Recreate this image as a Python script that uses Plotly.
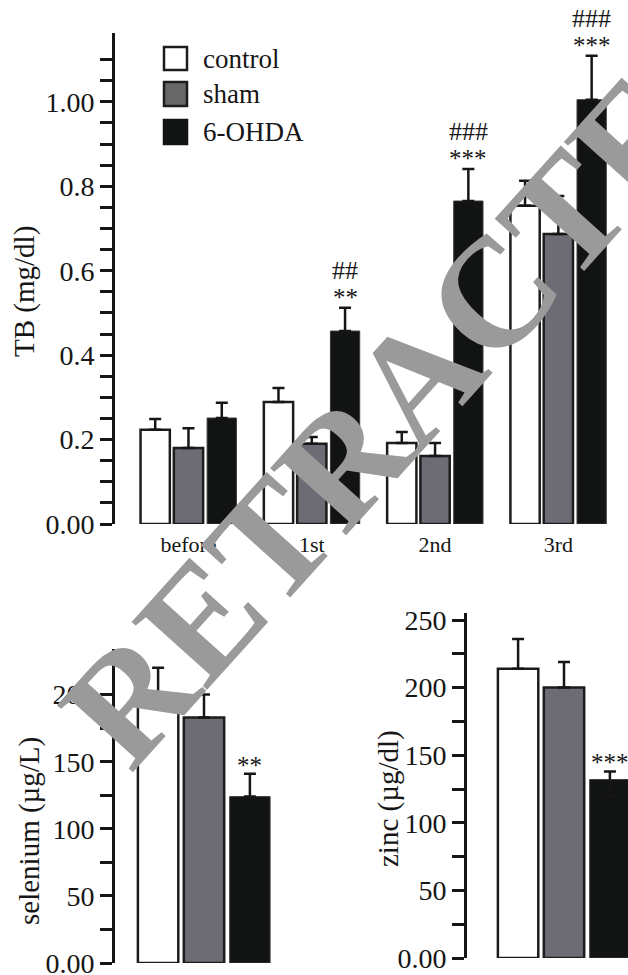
import plotly.graph_objects as go

# ---------------- data ----------------
groups = ["control", "sham", "6-OHDA"]
timepoints = ["before", "1st", "2nd", "3rd"]

tb_control = [0.223, 0.289, 0.192, 0.754]
tb_control_err = [0.026, 0.033, 0.026, 0.059]
tb_sham = [0.180, 0.190, 0.161, 0.687]
tb_sham_err = [0.047, 0.016, 0.031, 0.090]
tb_ohda = [0.251, 0.457, 0.765, 1.005]
tb_ohda_err = [0.036, 0.055, 0.076, 0.104]
tb_stars = ["", "**", "***", "***"]
tb_hashes = ["", "##", "###", "###"]

selenium_cat = ["selenium"]
selenium_vals = [195, 183, 124]
selenium_err = [25, 17, 17]
selenium_stars = ["", "", "**"]

zinc_cat = ["zinc"]
zinc_vals = [214, 200, 132]
zinc_err_plus = [22, 19, 6]
zinc_err_minus = [0, 0, 12]
zinc_stars = ["", "", "***"]

tb_ticks = [0, 0.2, 0.4, 0.6, 0.8, 1.0]
tb_ticktext = ["0.00", "0.2", "0.4", "0.6", "0.8", "1.00"]
tb_minor = [round(0.05 * i, 2) for i in range(23)]
se_ticks = [0, 50, 100, 150, 200]
se_ticktext = ["0.00", "50", "100", "150", "200"]
zn_ticks = [0, 50, 100, 150, 200, 250]
zn_ticktext = ["0.00", "50", "100", "150", "200", "250"]

titles = ["TB (mg/dl)", "selenium (µg/L)", "zinc (µg/dl)"]

# ---------------- style ----------------
W, H = 628, 975
FONT = "Liberation Serif"
INK = "#161616"
fills = ["#ffffff", "#6d6b74", "#121413"]
edges = ["#1c1c1c", "#1c1c1c", "#3a3a3a"]
edge_w = [2.5, 2.5, 1]
BARGAP = 0.19
GROUPGAP = 0.12
slot = (1 - BARGAP) / 3


def px_x(p):
    return p / W


def px_y(p):
    return 1 - p / H


fig = go.Figure()


def add_bars(xcats, series, errs_plus, errs_minus, xa, ya):
    for k in range(3):
        fig.add_trace(go.Bar(
            x=xcats, y=series[k], name=groups[k],
            marker=dict(color=fills[k], line=dict(color=edges[k], width=edge_w[k])),
            error_y=dict(type="data", symmetric=False, array=errs_plus[k],
                         arrayminus=errs_minus[k], color=INK, thickness=2.5, width=6),
            xaxis=xa, yaxis=ya, showlegend=False,
        ))


add_bars(timepoints, [tb_control, tb_sham, tb_ohda],
         [tb_control_err, tb_sham_err, tb_ohda_err],
         [[0] * 4] * 3, "x", "y")
add_bars(selenium_cat, [[v] for v in selenium_vals], [[e] for e in selenium_err],
         [[0]] * 3, "x2", "y2")
add_bars(zinc_cat, [[v] for v in zinc_vals], [[e] for e in zinc_err_plus],
         [[e] for e in zinc_err_minus], "x3", "y3")


def yaxis_style(ticks, ticktext, minor_vals, rng, dom, anchor):
    return dict(
        domain=dom, range=rng, anchor=anchor, showgrid=False, zeroline=False,
        automargin=False, ticklabeloverflow="allow",
        showline=True, linewidth=3, linecolor=INK,
        tickmode="array", tickvals=ticks, ticktext=ticktext,
        ticks="outside", ticklen=12, tickwidth=3, tickcolor=INK,
        tickfont=dict(family=FONT, size=28, color=INK),
        minor=dict(tickmode="array", tickvals=minor_vals, ticks="outside",
                   ticklen=12, tickwidth=3, tickcolor=INK, showgrid=False),
        fixedrange=True,
    )


def xaxis_hidden(dom, rng, anchor):
    return dict(domain=dom, range=rng, anchor=anchor, automargin=False,
                showline=False, showgrid=False, zeroline=False, showticklabels=False,
                fixedrange=True)


fig.update_layout(
    width=W, height=H, margin=dict(l=0, r=0, t=0, b=0, autoexpand=False),
    paper_bgcolor="white", plot_bgcolor="white",
    barmode="group", bargap=BARGAP, bargroupgap=GROUPGAP,
    xaxis=dict(domain=[px_x(115), px_x(620)], range=[-0.596, 3.5], anchor="y",
               automargin=False, showline=False, showgrid=False, zeroline=False,
               ticks="outside", ticklen=1, tickcolor="rgba(0,0,0,0)",
               tickfont=dict(family=FONT, size=22, color=INK), fixedrange=True),
    yaxis=yaxis_style(tb_ticks, tb_ticktext, tb_minor,
                      [0, 1.163], [px_y(524), px_y(33)], "x"),
    xaxis2=xaxis_hidden([px_x(115), px_x(300)], [-0.5235, 0.5647], "y2"),
    yaxis2=yaxis_style(se_ticks, se_ticktext, [25 * i for i in range(10)],
                       [0, 234], [px_y(963), px_y(649)], "x2"),
    xaxis3=xaxis_hidden([px_x(467), 1.0], [-0.5706, 0.3765], "y3"),
    yaxis3=yaxis_style(zn_ticks, zn_ticktext, [25 * i for i in range(11)],
                       [0, 255.2], [px_y(958), px_y(613)], "x3"),
)

annotations = []

# y-axis titles
for text, (cx, cy) in zip(titles, [(24, 292), (29, 831), (388, 799)]):
    annotations.append(dict(xref="paper", yref="paper", x=px_x(cx), y=px_y(cy),
                            text=text, showarrow=False, textangle=-90,
                            xanchor="center", yanchor="middle",
                            font=dict(family=FONT, size=29, color=INK)))


def sig(xref, yref, xpos, ytop, text, shift, size):
    annotations.append(dict(
        xref=xref, yref=yref, x=xpos, y=ytop, text=text, showarrow=False,
        yanchor="middle", xanchor="center", yshift=shift,
        font=dict(family=FONT, size=size, color=INK)))


for i in range(len(timepoints)):
    top = tb_ohda[i] + tb_ohda_err[i]
    if tb_stars[i]:
        sig("x", "y", i + slot, top, tb_stars[i], 10, 25)
    if tb_hashes[i]:
        sig("x", "y", i + slot, top, tb_hashes[i], 37, 26)

for k in range(3):
    if selenium_stars[k]:
        sig("x2", "y2", (k - 1) * slot, selenium_vals[k] + selenium_err[k], selenium_stars[k], 8, 25)
    if zinc_stars[k]:
        sig("x3", "y3", (k - 1) * slot, zinc_vals[k] + zinc_err_plus[k], zinc_stars[k], 9, 25)

# manual legend
legend_rows = [(47, 70), (82, 106), (120, 144)]
legend_fill = ["#ffffff", "#676767", "#121413"]
legend_edge = ["#1c1c1c", "#1c1c1c", "#121413"]
shapes = []
for k, (y0, y1) in enumerate(legend_rows):
    shapes.append(dict(type="rect", xref="paper", yref="paper",
                       x0=px_x(164), x1=px_x(187), y0=px_y(y1), y1=px_y(y0),
                       fillcolor=legend_fill[k], line=dict(color=legend_edge[k], width=2.5)))
    annotations.append(dict(xref="paper", yref="paper", x=px_x(201), y=px_y((y0 + y1) / 2),
                            text=groups[k], showarrow=False, xanchor="left", yanchor="middle",
                            font=dict(family=FONT, size=27, color=INK)))

# watermark
annotations.append(dict(xref="paper", yref="paper", x=px_x(417), y=px_y(379),
                        text="<b>RETRACTED</b>", showarrow=False, textangle=-48,
                        xanchor="center", yanchor="middle",
                        font=dict(family=FONT, size=155, color="#9a9a9a")))

fig.update_layout(shapes=shapes, annotations=annotations)
fig.write_html("out.html", post_script="document.body.style.margin='0';",
               config={"displayModeBar": False})
